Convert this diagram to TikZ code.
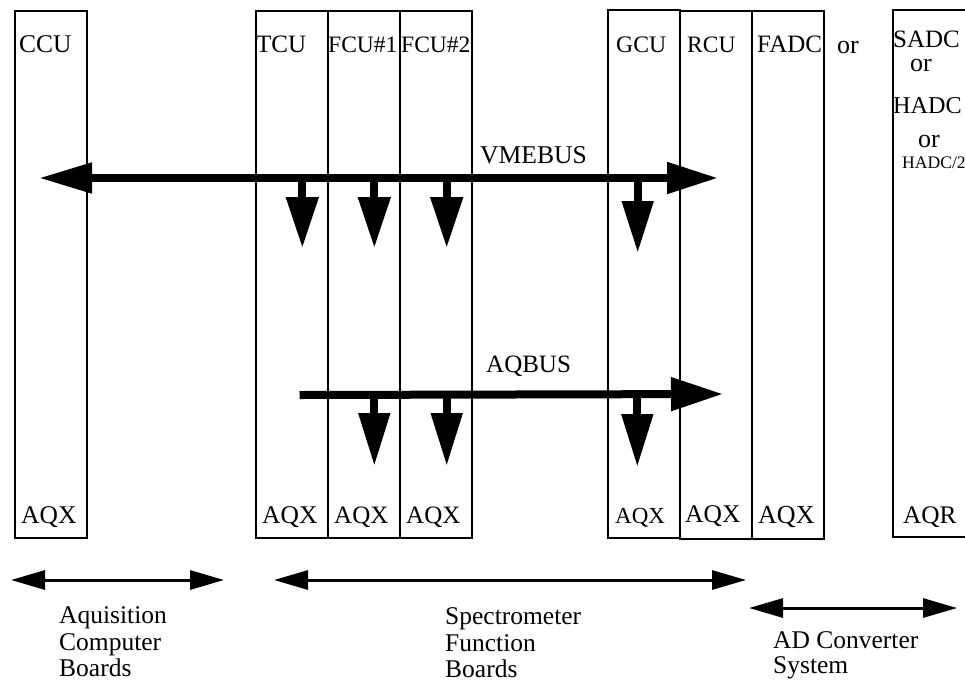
\documentclass[tikz,border=0pt]{standalone}
\usepackage{fontspec}
\setmainfont{Liberation Serif}
\usetikzlibrary{arrows.meta}
\begin{document}
\begin{tikzpicture}[x=1pt,y=-1pt,
  board/.style={draw,line width=2pt,minimum width=72pt,minimum height=527pt,anchor=north west,inner sep=0pt},
  lbl/.style={anchor=base west,inner sep=0pt,font=\fontsize{25}{29}\selectfont},
  flbl/.style={anchor=base west,inner sep=0pt,font=\fontsize{23.5}{28}\selectfont},
  bus/.style={line width=8pt},
  span/.style={line width=3pt,{Triangle[length=34pt,width=19pt]}-{Triangle[length=34pt,width=19pt]}}]
\useasboundingbox (0,0) rectangle (965,681);
% boards
\node[board] (ccu) at (14,10) {};
\node[board] (tcu) at (255,10) {};
\node[board] (fcu1) at (327,10) {};
\node[board] (fcu2) at (399,10) {};
\node[board,minimum height=528.5pt] (gcu) at (607,8.5) {};
\node[board,minimum height=528pt] (rcu) at (679,10) {};
\node[board,minimum height=528pt] (fadc) at (751,10) {};
\draw[line width=2pt] (966,10) -- (893,10) -- (893,537) -- (966,537);
% board labels
\node[lbl,font=\fontsize{25.5}{30}\selectfont] (tccu) at (19,52) {CCU};
\node[lbl] (ttcu) at (256,52) {TCU};
\node[flbl] (tfcu1) at (328,52) {FCU\#1};
\node[flbl] (tfcu2) at (401,52) {FCU\#2};
\node[lbl,font=\fontsize{23.7}{28}\selectfont] (tgcu) at (616,52) {GCU};
\node[lbl,font=\fontsize{23.5}{28}\selectfont] (trcu) at (687,52) {RCU};
\node[lbl] (tfadc) at (757,52) {FADC};
\node[lbl,font=\fontsize{26}{30}\selectfont] (tor1) at (837,53) {or};
\node[lbl,font=\fontsize{25}{30}\selectfont] (tsadc) at (893,47) {SADC};
\node[lbl,font=\fontsize{26}{30}\selectfont] (tor2) at (910,71) {or};
\node[lbl,font=\fontsize{24.2}{29}\selectfont] (thadc) at (893,113) {HADC};
\node[lbl,font=\fontsize{26}{30}\selectfont] (tor3) at (918,147) {or};
\node[lbl,font=\fontsize{17.6}{21}\selectfont] (thadc2) at (902,168) {HADC/2};
% AQX labels
\node[lbl,font=\fontsize{25.5}{30}\selectfont] (q1) at (21,523) {AQX};
\node[lbl,font=\fontsize{25.5}{30}\selectfont] (q2) at (262,523) {AQX};
\node[lbl,font=\fontsize{25}{30}\selectfont] (q3) at (334,523) {AQX};
\node[lbl,font=\fontsize{25}{30}\selectfont] (q4) at (406,523) {AQX};
\node[lbl,font=\fontsize{23}{28}\selectfont] (q5) at (615,523) {AQX};
\node[lbl,font=\fontsize{25.5}{30}\selectfont] (q6) at (685,522) {AQX};
\node[lbl,font=\fontsize{26}{30}\selectfont] (q7) at (758,523) {AQX};
\node[lbl,font=\fontsize{25.3}{30}\selectfont] (q8) at (903,523) {AQR};
% VMEBUS
\coordinate (vl) at (39,178);
\coordinate (vr) at (718,178);
\draw[bus,{Triangle[length=53pt,width=29pt]}-{Triangle[length=51pt,width=30pt]}] (vl) -- (vr);
\node[lbl,font=\fontsize{25.6}{30}\selectfont] (tvme) at (480,163) {VMEBUS};
\coordinate (v1) at (302.3,177); \coordinate (v1t) at (302.3,248);
\coordinate (v2) at (374.3,177); \coordinate (v2t) at (374.3,248);
\coordinate (v3) at (446.7,177); \coordinate (v3t) at (446.7,248);
\coordinate (v4) at (637.7,177); \coordinate (v4t) at (637.7,253);
\draw[bus,-{Triangle[length=51pt,width=31pt]}] (v1) -- (v1t);
\draw[bus,-{Triangle[length=51pt,width=31pt]}] (v2) -- (v2t);
\draw[bus,-{Triangle[length=51pt,width=31pt]}] (v3) -- (v3t);
\draw[bus,-{Triangle[length=52pt,width=30pt]}] (v4) -- (v4t);
% AQBUS
\coordinate (al) at (299.5,395);
\coordinate (ar) at (723,394);
\draw[bus,-{Triangle[length=52pt,width=32pt]}] (al) -- (ar);
\node[lbl,font=\fontsize{25}{30}\selectfont] (taq) at (486,372) {AQBUS};
\coordinate (a1) at (374.3,394); \coordinate (a1t) at (374.3,466);
\coordinate (a2) at (446.7,394); \coordinate (a2t) at (446.7,466);
\coordinate (a3) at (637.3,394); \coordinate (a3t) at (637.3,467);
\draw[bus,-{Triangle[length=53pt,width=30pt]}] (a1) -- (a1t);
\draw[bus,-{Triangle[length=53pt,width=30pt]}] (a2) -- (a2t);
\draw[bus,-{Triangle[length=53pt,width=30pt]}] (a3) -- (a3t);
% span arrows
\coordinate (s1l) at (11,580); \coordinate (s1r) at (224,580);
\coordinate (s2l) at (274,580); \coordinate (s2r) at (746,580);
\coordinate (s3l) at (749,608); \coordinate (s3r) at (957,608);
\draw[span] (s1l) -- (s1r);
\draw[span] (s2l) -- (s2r);
\draw[span] (s3l) -- (s3r);
% bottom labels
\node[lbl,font=\fontsize{25.5}{30}\selectfont] (b1a) at (59,623) {Aquisition};
\node[lbl,font=\fontsize{25.5}{30}\selectfont] (b1b) at (59,650) {Computer};
\node[lbl,font=\fontsize{25.5}{30}\selectfont] (b1c) at (59,676) {Boards};
\node[lbl,font=\fontsize{25.5}{30}\selectfont] (b2a) at (445,624) {Spectrometer};
\node[lbl,font=\fontsize{25.5}{30}\selectfont] (b2b) at (445,651) {Function};
\node[lbl,font=\fontsize{25.5}{30}\selectfont] (b2c) at (445,677) {Boards};
\node[lbl,font=\fontsize{25.5}{30}\selectfont] (b3a) at (773,648) {AD Converter};
\node[lbl,font=\fontsize{25.5}{30}\selectfont] (b3b) at (773,673) {System};
\end{tikzpicture}
\end{document}
